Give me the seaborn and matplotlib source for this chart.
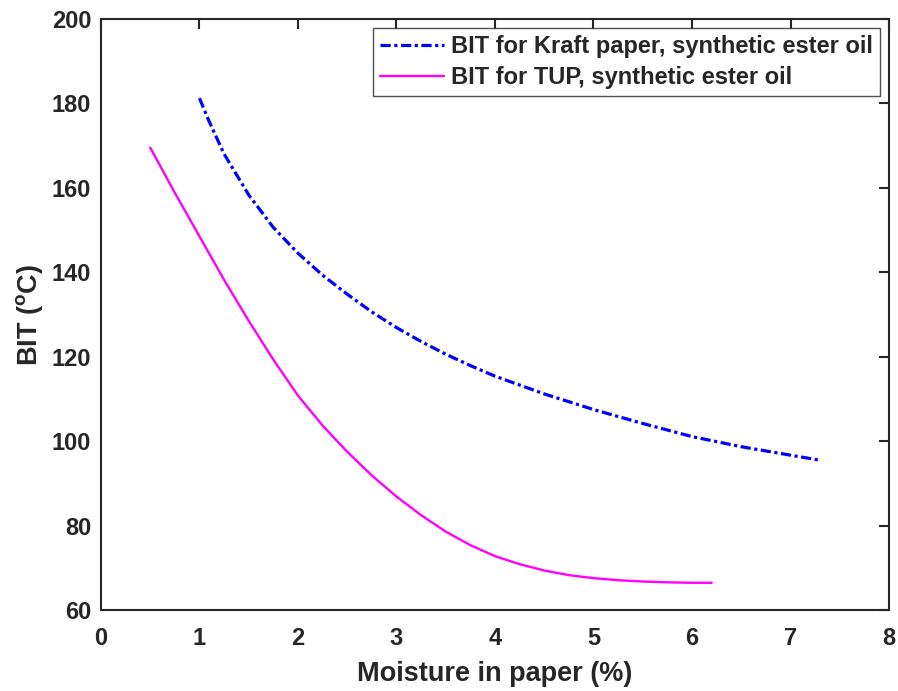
import matplotlib
matplotlib.use("Agg")
import matplotlib.pyplot as plt
import seaborn as sns
import pandas as pd

# Data
kraft_x = [1.0, 1.1, 1.25, 1.5, 1.75, 2.0, 2.25, 2.5, 2.75, 3.0, 3.25, 3.5, 3.75,
           4.0, 4.5, 5.0, 5.5, 6.0, 6.5, 7.0, 7.3]
kraft_y = [181.2, 175.6, 168.0, 158.3, 150.6, 144.5, 139.3, 134.8, 130.6, 126.9, 123.6,
           120.6, 117.9, 115.4, 111.2, 107.5, 104.2, 101.1, 98.7, 96.7, 95.5]
tup_x = [0.5, 0.75, 1.0, 1.25, 1.5, 1.75, 2.0, 2.25, 2.5, 2.75, 3.0, 3.25, 3.5, 3.75,
         4.0, 4.25, 4.5, 4.75, 5.0, 5.25, 5.5, 5.75, 6.0, 6.2]
tup_y = [169.5, 158.8, 148.5, 138.2, 128.5, 119.3, 110.8, 103.7, 97.5, 91.9, 86.9, 82.5,
         78.6, 75.4, 72.8, 70.9, 69.4, 68.3, 67.6, 67.1, 66.8, 66.6, 66.5, 66.5]

label_kraft = "BIT for Kraft paper, synthetic ester oil"
label_tup = "BIT for TUP, synthetic ester oil"
x_ticks = [0, 1, 2, 3, 4, 5, 6, 7, 8]
y_ticks = [60, 80, 100, 120, 140, 160, 180, 200]

sns.set_style("white")
plt.rcParams['font.family'] = ['Liberation Sans', 'DejaVu Sans']
plt.rcParams['mathtext.fontset'] = 'custom'
plt.rcParams['mathtext.rm'] = 'Liberation Sans:bold'
plt.rcParams['mathtext.bf'] = 'Liberation Sans:bold'

fig = plt.figure(figsize=(8.98, 6.91), dpi=100)
ax = fig.add_axes([0.1124, 0.1169, 0.8776, 0.8560])

dk = pd.DataFrame({"x": kraft_x, "y": kraft_y})
dt = pd.DataFrame({"x": tup_x, "y": tup_y})
sns.lineplot(data=dk, x="x", y="y", ax=ax, color="#0000ff",
             linewidth=2.3, label=label_kraft, sort=True, dashes=False)
sns.lineplot(data=dt, x="x", y="y", ax=ax, color="#ff00ff", linestyle="-",
             linewidth=1.7, label=label_tup, sort=True)
ax.lines[0].set_dashes([3.2, 1.1, 1.0, 1.1])
ax.lines[0].set_dash_capstyle('butt')

ax.set_xlim(0, 8)
ax.set_ylim(60, 200)
ax.set_xticks(x_ticks)
ax.set_yticks(y_ticks)
ax.tick_params(direction='in', length=7, width=1.5, top=True, right=True,
               labelsize=17, colors='#262626')
ax.tick_params(axis='x', pad=12)
ax.tick_params(axis='y', pad=7)
for lab in ax.get_xticklabels() + ax.get_yticklabels():
    lab.set_fontweight('bold')
for sp in ax.spines.values():
    sp.set_color('#262626')
    sp.set_linewidth(1.5)

ax.set_xlabel("Moisture in paper (%)", fontsize=19.5, fontweight='bold', color='#262626', labelpad=8)
ax.set_ylabel(r"BIT ($^{\mathrm{o}}$C)", fontsize=19.5, fontweight='bold', color='#262626', labelpad=5)

leg = ax.legend(loc='upper right', frameon=True, fancybox=False,
                edgecolor='#262626', handlelength=2.67, borderpad=0.3,
                labelspacing=0.32, handletextpad=0.3, borderaxespad=0.4,
                prop={'weight': 'bold', 'size': 17})
leg.get_frame().set_linewidth(1.0)
leg.get_lines()[0].set_dashes([3.2, 1.1, 1.0, 1.1])

fig.savefig("out.png", dpi=100)
